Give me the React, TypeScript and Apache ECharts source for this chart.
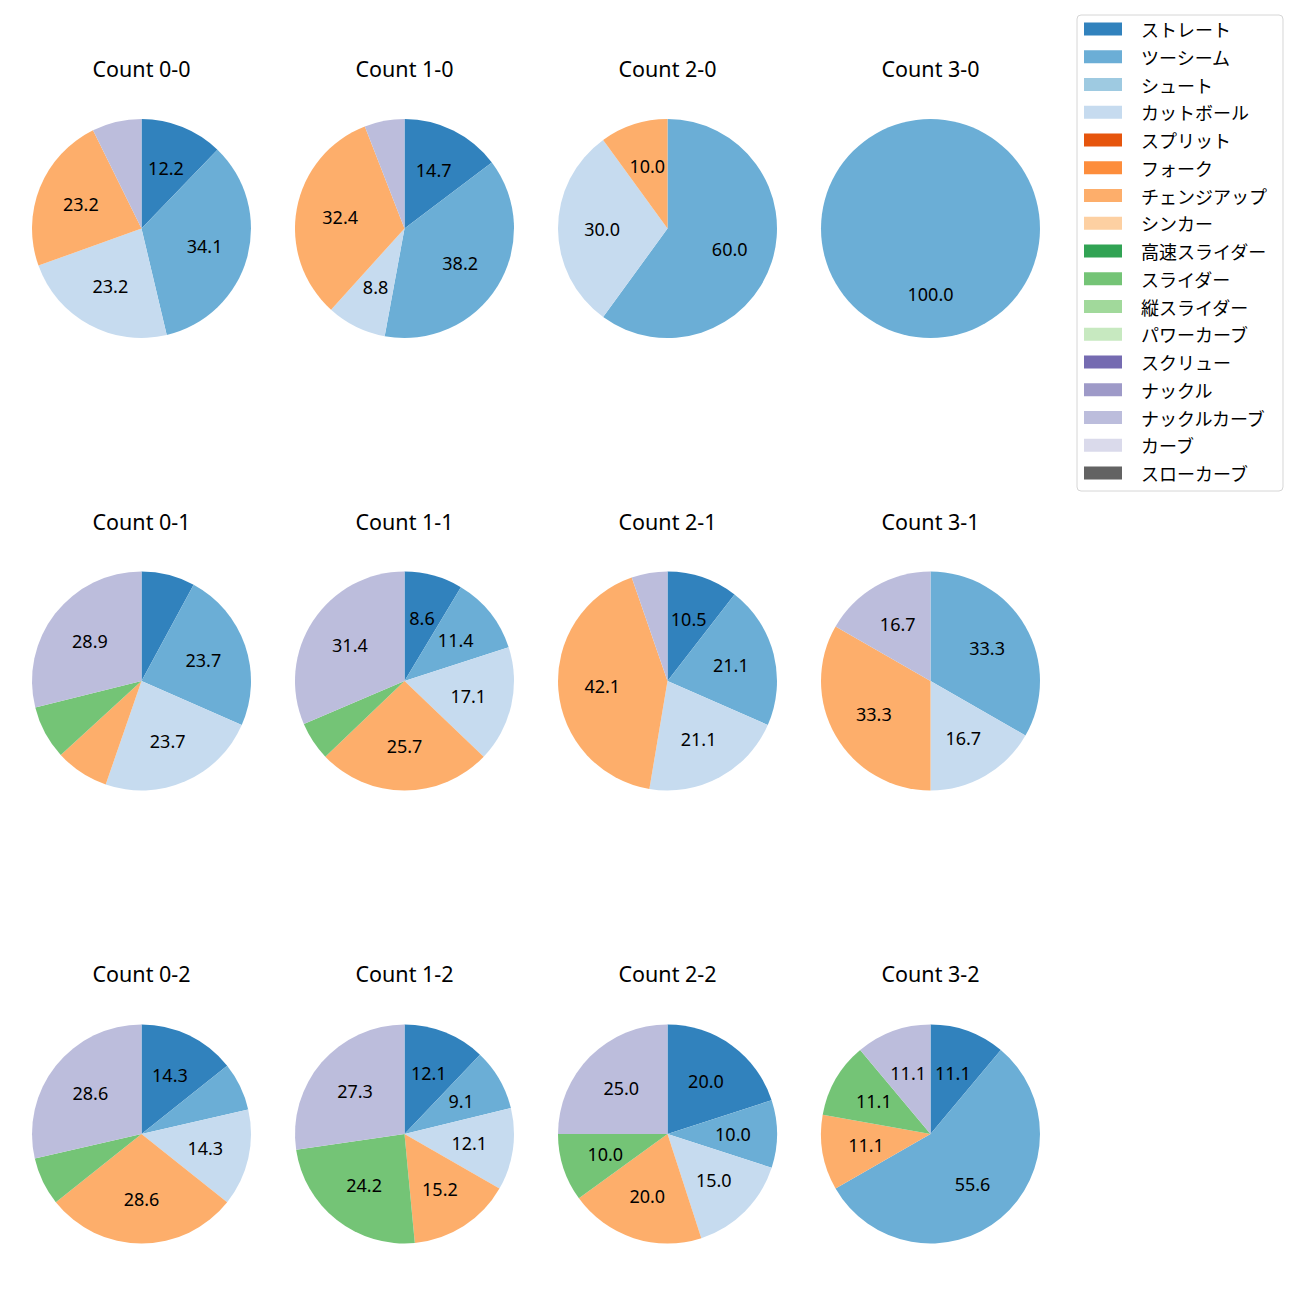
import React, { useEffect, useRef } from "react";
import * as echarts from "echarts";

const pitchTypes = [
  "ストレート", "ツーシーム", "シュート", "カットボール", "スプリット", "フォーク",
  "チェンジアップ", "シンカー", "高速スライダー", "スライダー", "縦スライダー",
  "パワーカーブ", "スクリュー", "ナックル", "ナックルカーブ", "カーブ", "スローカーブ",
];
const pitchColors = [
  "#3182bd", "#6baed6", "#9ecae1", "#c6dbef", "#e6550d", "#fd8d3c",
  "#fdae6b", "#fdd0a2", "#31a354", "#74c476", "#a1d99b",
  "#c7e9c0", "#756bb1", "#9e9ac8", "#bcbddc", "#dadaeb", "#636363",
];

const countTitles = [
  "Count 0-0", "Count 1-0", "Count 2-0", "Count 3-0",
  "Count 0-1", "Count 1-1", "Count 2-1", "Count 3-1",
  "Count 0-2", "Count 1-2", "Count 2-2", "Count 3-2",
];

// [pitch type, percent] per count, in drawing order
const count00: [string, number][] = [["ストレート", 12.2], ["ツーシーム", 34.1], ["カットボール", 23.2], ["チェンジアップ", 23.2], ["ナックルカーブ", 7.3]];
const count10: [string, number][] = [["ストレート", 14.7], ["ツーシーム", 38.2], ["カットボール", 8.8], ["チェンジアップ", 32.4], ["ナックルカーブ", 5.9]];
const count20: [string, number][] = [["ツーシーム", 60.0], ["カットボール", 30.0], ["チェンジアップ", 10.0]];
const count30: [string, number][] = [["ツーシーム", 100.0]];
const count01: [string, number][] = [["ストレート", 7.9], ["ツーシーム", 23.7], ["カットボール", 23.7], ["チェンジアップ", 7.9], ["スライダー", 7.9], ["ナックルカーブ", 28.9]];
const count11: [string, number][] = [["ストレート", 8.6], ["ツーシーム", 11.4], ["カットボール", 17.1], ["チェンジアップ", 25.7], ["スライダー", 5.7], ["ナックルカーブ", 31.4]];
const count21: [string, number][] = [["ストレート", 10.5], ["ツーシーム", 21.1], ["カットボール", 21.1], ["チェンジアップ", 42.1], ["ナックルカーブ", 5.3]];
const count31: [string, number][] = [["ツーシーム", 33.3], ["カットボール", 16.7], ["チェンジアップ", 33.3], ["ナックルカーブ", 16.7]];
const count02: [string, number][] = [["ストレート", 14.3], ["ツーシーム", 7.1], ["カットボール", 14.3], ["チェンジアップ", 28.6], ["スライダー", 7.1], ["ナックルカーブ", 28.6]];
const count12: [string, number][] = [["ストレート", 12.1], ["ツーシーム", 9.1], ["カットボール", 12.1], ["チェンジアップ", 15.2], ["スライダー", 24.2], ["ナックルカーブ", 27.3]];
const count22: [string, number][] = [["ストレート", 20.0], ["ツーシーム", 10.0], ["カットボール", 15.0], ["チェンジアップ", 20.0], ["スライダー", 10.0], ["ナックルカーブ", 25.0]];
const count32: [string, number][] = [["ストレート", 11.1], ["ツーシーム", 55.6], ["チェンジアップ", 11.1], ["スライダー", 11.1], ["ナックルカーブ", 11.1]];

const allCounts = [count00, count10, count20, count30, count01, count11, count21, count31, count02, count12, count22, count32];

const FONT = "'Noto Sans', 'Noto Sans CJK JP', sans-serif";
const LEGEND_FONT = "'Noto Sans CJK JP', 'Noto Sans', sans-serif";
const colX = [141.5, 404.5, 667.5, 930.5];
const rowY = [228.5, 681, 1134];
const titleY = [68.5, 521.5, 973.5];
const R = 109.5;

export default function App() {
  const ref = useRef<HTMLDivElement>(null);
  useEffect(() => {
    if (!ref.current) return;
    const chart = echarts.init(ref.current, undefined, { renderer: "svg" });
    const colorOf = (n: string) => pitchColors[pitchTypes.indexOf(n)];
    const series: any[] = [];
    // legend provider
    series.push({
      type: "pie",
      center: [-500, -500],
      radius: 0,
      silent: true,
      label: { show: false },
      labelLine: { show: false },
      data: pitchTypes.map((n, i) => ({ name: n, value: 1, itemStyle: { color: pitchColors[i] } })),
    });
    const titles: any[] = [];
    allCounts.forEach((d, idx) => {
      const cx = colX[idx % 4];
      const cy = rowY[Math.floor(idx / 4)];
      titles.push({
        text: countTitles[idx],
        left: cx,
        top: titleY[Math.floor(idx / 4)] - 12,
        textAlign: "center",
        padding: 0,
        textStyle: { fontFamily: FONT, fontSize: 21.5, fontWeight: "normal", color: "#000", lineHeight: 24 },
      });
      series.push({
        type: "pie",
        center: [cx, cy],
        radius: [0, R],
        startAngle: 90,
        clockwise: true,
        silent: true,
        label: { show: false },
        labelLine: { show: false },
        itemStyle: { borderWidth: 0 },
        data: d.map(([n, v]) => ({ name: n, value: v, itemStyle: { color: colorOf(n) } })),
      });
      series.push({
        type: "pie",
        center: [cx, cy],
        radius: [R * 0.14, R],
        startAngle: 90,
        clockwise: true,
        silent: true,
        itemStyle: { color: "rgba(0,0,0,0)", borderWidth: 0 },
        labelLine: { show: false },
        label: {
          show: true,
          position: "inside",
          fontFamily: FONT,
          fontSize: 18,
          color: "#000",
          formatter: (p: any) => (p.value >= 8 ? Number(p.value).toFixed(1) : ""),
        },
        data: d.map(([n, v]) => ({ name: n, value: v })),
      });
    });
    chart.setOption({
      animation: false,
      backgroundColor: "#fff",
      title: titles,
      legend: {
        orient: "vertical",
        left: 1077,
        top: 15,
        data: pitchTypes,
        icon: "rect",
        itemWidth: 38,
        itemHeight: 13,
        itemGap: 9.75,
        padding: [5, 16, 9, 7],
        borderColor: "#d6d6d6",
        borderWidth: 1,
        borderRadius: 4,
        selectedMode: false,
        textStyle: { fontFamily: LEGEND_FONT, fontSize: 18, color: "#000", lineHeight: 18, padding: [0, 0, 0, 14] },
      },
      series,
    });
    return () => chart.dispose();
  }, []);
  return <div ref={ref} style={{ position: "fixed", left: 0, top: 0, width: 1300, height: 1300 }} />;
}
